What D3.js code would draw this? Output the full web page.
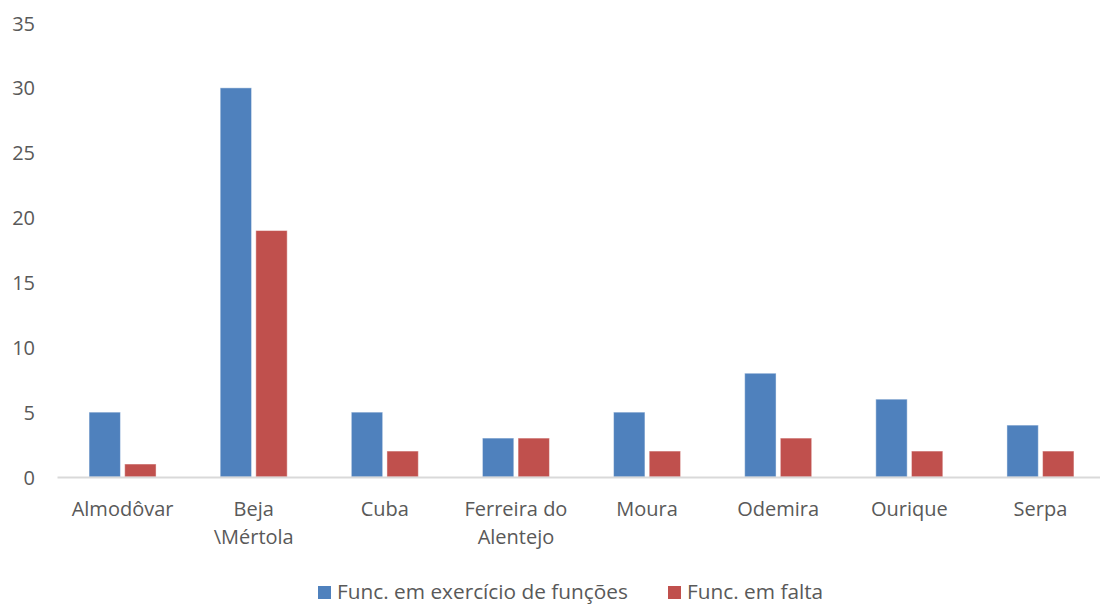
<!DOCTYPE html>
<html>
<head>
<meta charset="utf-8">
<style>
body { margin: 0; background: #fff; }
text { font-family: "Open Sans", sans-serif; fill: #595959; }
.tick text { font-size: 20px; }
.legend text { font-size: 20.8px; }
</style>
</head>
<body>
<svg id="chart" width="1100" height="604"></svg>
<script src="https://cdn.jsdelivr.net/npm/d3@7"></script>
<script>
// data
var categories = ["Almodôvar", "Beja\n\\Mértola", "Cuba", "Ferreira do\nAlentejo", "Moura", "Odemira", "Ourique", "Serpa"];
var seriesNames = ["Func. em exercício de funções", "Func. em falta"];
var emExercicio = [5, 30, 5, 3, 5, 8, 6, 4];
var emFalta = [1, 19, 2, 3, 2, 3, 2, 2];
var yTicks = [0, 5, 10, 15, 20, 25, 30, 35];
var colors = ["#4F81BD", "#C0504D"];

var svg = d3.select("#chart");

var x0 = d3.scaleBand()
    .domain(categories)
    .range([57, 1106])
    .paddingInner(0.489)
    .paddingOuter(0.2445);

var x1 = d3.scaleBand()
    .domain(seriesNames)
    .range([0, x0.bandwidth()])
    .paddingInner(0.12);

var y = d3.scaleLinear()
    .domain([0, 35])
    .range([477, 23]);

var rows = categories.map(function(c, i) {
  return { cat: c, values: [emExercicio[i], emFalta[i]] };
});

// y axis labels only (no line, no grid)
var yAxis = svg.append("g")
    .attr("transform", "translate(35,0)")
    .call(d3.axisLeft(y).tickValues(yTicks).tickSize(0).tickPadding(0));
yAxis.select(".domain").remove();
yAxis.selectAll("text").attr("dy", "0.35em");

// bars
var groups = svg.selectAll(".grp")
    .data(rows)
  .enter().append("g")
    .attr("class", "grp")
    .attr("transform", function(d) { return "translate(" + x0(d.cat) + ",0)"; });

groups.selectAll("rect")
    .data(function(d) { return d.values.map(function(v, i) { return { name: seriesNames[i], v: v, i: i }; }); })
  .enter().append("rect")
    .attr("x", function(d) { return x1(d.name); })
    .attr("y", function(d) { return y(d.v); })
    .attr("width", x1.bandwidth())
    .attr("height", function(d) { return y(0) - y(d.v); })
    .attr("fill", function(d) { return colors[d.i]; })
    .attr("stroke", "#ffffff")
    .attr("stroke-opacity", 0.45)
    .attr("stroke-width", 1);

// x axis
var xAxis = svg.append("g")
    .attr("transform", "translate(0," + y(0) + ")")
    .call(d3.axisBottom(x0).tickSize(0).tickSizeOuter(0).tickFormat(""));
xAxis.select(".domain")
    .attr("stroke", "#d9d9d9")
    .attr("stroke-width", 2);

xAxis.selectAll(".tick").each(function(d) {
  var lines = d.split("\n");
  var t = d3.select(this).append("text")
      .attr("text-anchor", "middle")
      .style("font-size", "20px");
  lines.forEach(function(l, i) {
    t.append("tspan")
        .attr("x", 0)
        .attr("y", 39 + i * 28)
        .text(l);
  });
});

// legend
var legend = svg.append("g").attr("class", "legend");
var lx = [318, 668];
seriesNames.forEach(function(n, i) {
  var g = legend.append("g").attr("transform", "translate(" + lx[i] + ",0)");
  g.append("rect")
      .attr("x", 0).attr("y", 586)
      .attr("width", 13).attr("height", 13)
      .attr("fill", colors[i]);
  g.append("text")
      .attr("x", 19)
      .attr("y", 599)
      .text(n);
});
</script>
</body>
</html>
